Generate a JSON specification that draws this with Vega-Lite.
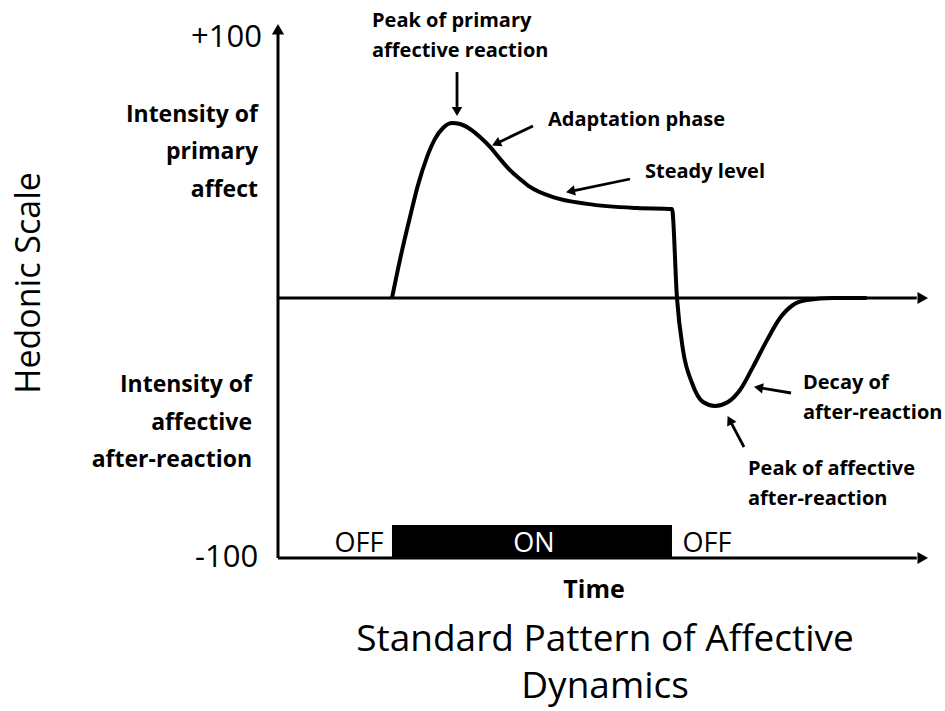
{
  "$schema": "https://vega.github.io/schema/vega-lite/v6.json",
  "width": 945,
  "height": 711,
  "autosize": {"type": "fit", "contains": "padding"},
  "padding": 0,
  "background": "white",
  "config": {"view": {"stroke": null}, "font": "Open Sans"},
  "datasets": {
    "curve": [
      {"t": 17.81, "h": 0}, {"t": 19.22, "h": 16.5}, {"t": 20.63, "h": 31.2}, {"t": 21.88, "h": 43.5},
      {"t": 23.28, "h": 54.2}, {"t": 24.53, "h": 61.2}, {"t": 25.78, "h": 65.4}, {"t": 27.19, "h": 67.3},
      {"t": 28.44, "h": 66.9}, {"t": 30.0, "h": 65.0}, {"t": 31.56, "h": 61.9}, {"t": 33.13, "h": 58.1},
      {"t": 34.69, "h": 53.5}, {"t": 36.25, "h": 49.2}, {"t": 37.81, "h": 45.8}, {"t": 39.38, "h": 42.7},
      {"t": 42.97, "h": 38.8}, {"t": 48.28, "h": 36.2}, {"t": 56.09, "h": 34.6}, {"t": 61.56, "h": 34.2},
      {"t": 62.34, "h": 0}, {"t": 63.28, "h": -20.0}, {"t": 64.69, "h": -32.7}, {"t": 66.41, "h": -40.0},
      {"t": 68.28, "h": -41.5}, {"t": 70.31, "h": -40.0}, {"t": 72.19, "h": -35.4}, {"t": 74.22, "h": -26.5},
      {"t": 76.41, "h": -16.2}, {"t": 78.44, "h": -7.7}, {"t": 80.47, "h": -2.7}, {"t": 82.66, "h": -0.8},
      {"t": 86.72, "h": 0}, {"t": 92.0, "h": 0}
    ],
    "stimulus": [{"t": 17.81, "t2": 61.56, "h": -100, "h2": -87.3}],
    "axes": [
      {"t": 0, "h": -100, "t2": 0, "h2": 101.5},
      {"t": 0, "h": 0, "t2": 99.8, "h2": 0},
      {"t": 0, "h": -100, "t2": 99.8, "h2": -100}
    ],
    "axisHeads": [
      {"t": 0, "h": 102.7, "angle": 0},
      {"t": 100.47, "h": 0, "angle": 90},
      {"t": 100.47, "h": -100, "angle": 90}
    ],
    "arrows": [
      {"t": 27.97, "h": 86.9, "t2": 27.97, "h2": 73.5},
      {"t": 39.84, "h": 66.15, "t2": 34.3, "h2": 59.65},
      {"t": 55.0, "h": 45.77, "t2": 45.92, "h2": 41.15},
      {"t": 80.16, "h": -36.54, "t2": 75.3, "h2": -34.54},
      {"t": 72.81, "h": -57.31, "t2": 70.69, "h2": -47.46}
    ],
    "arrowHeads": [
      {"t": 27.97, "h": 72.3, "angle": 180},
      {"t": 34.3, "h": 59.65, "angle": 244.9},
      {"t": 45.92, "h": 41.15, "angle": 258.7},
      {"t": 75.3, "h": -34.54, "angle": 279.5},
      {"t": 70.69, "h": -47.46, "angle": 332.4}
    ],
    "annotations": [
      {"label": "Peak of primary", "t": 14.69, "h": 106.5},
      {"label": "affective reaction", "t": 14.69, "h": 95.0},
      {"label": "Adaptation phase", "t": 42.19, "h": 68.3},
      {"label": "Steady level", "t": 57.34, "h": 48.3},
      {"label": "Decay of", "t": 82.03, "h": -32.7},
      {"label": "after-reaction", "t": 82.03, "h": -44.2},
      {"label": "Peak of affective", "t": 73.44, "h": -65.8},
      {"label": "after-reaction", "t": 73.44, "h": -77.3}
    ],
    "sideLabels": [
      {"label": "Intensity of", "t": -3.13, "h": 70.4},
      {"label": "primary", "t": -3.13, "h": 56.0},
      {"label": "affect", "t": -3.13, "h": 41.5},
      {"label": "Intensity of", "t": -4.06, "h": -33.5},
      {"label": "affective", "t": -4.06, "h": -48.1},
      {"label": "after-reaction", "t": -4.06, "h": -62.3}
    ],
    "scaleLabels": [
      {"label": "+100", "t": -2.5, "h": 100},
      {"label": "-100", "t": -3.1, "h": -100}
    ],
    "states": [
      {"label": "OFF", "t": 12.66, "h": -94.5},
      {"label": "ON", "t": 40.0, "h": -94.5},
      {"label": "OFF", "t": 67.03, "h": -94.5}
    ],
    "xTitle": [{"label": "Time", "t": 49.38, "h": -112.3}],
    "yTitle": [{"label": "Hedonic Scale", "t": -38.75, "h": 5.8}],
    "caption": [
      {"label": "Standard Pattern of Affective", "t": 51.1, "h": -131.5},
      {"label": "Dynamics", "t": 51.1, "h": -149.5}
    ]
  },
  "layer": [
    {
      "data": {"name": "stimulus"},
      "mark": {"type": "rect", "color": "black"},
      "encoding": {
        "x": {"field": "t", "type": "quantitative", "scale": {"domain": [-43.4375, 104.21875], "nice": false, "zero": false}, "axis": null},
        "x2": {"field": "t2"},
        "y": {"field": "h", "type": "quantitative", "scale": {"domain": [-158.846, 114.615], "nice": false, "zero": false}, "axis": null},
        "y2": {"field": "h2"}
      }
    },
    {
      "data": {"name": "axes"},
      "mark": {"type": "rule", "color": "black", "strokeWidth": 3},
      "encoding": {
        "x": {"field": "t", "type": "quantitative"},
        "x2": {"field": "t2"},
        "y": {"field": "h", "type": "quantitative"},
        "y2": {"field": "h2"}
      }
    },
    {
      "data": {"name": "axisHeads"},
      "mark": {"type": "point", "shape": "triangle", "filled": true, "color": "black", "size": 150, "opacity": 1},
      "encoding": {
        "x": {"field": "t", "type": "quantitative"},
        "y": {"field": "h", "type": "quantitative"},
        "angle": {"field": "angle", "type": "quantitative", "scale": null}
      }
    },
    {
      "data": {"name": "curve"},
      "mark": {"type": "line", "color": "black", "strokeWidth": 4, "interpolate": "monotone"},
      "encoding": {
        "x": {"field": "t", "type": "quantitative"},
        "y": {"field": "h", "type": "quantitative"}
      }
    },
    {
      "data": {"name": "arrows"},
      "mark": {"type": "rule", "color": "black", "strokeWidth": 2.8},
      "encoding": {
        "x": {"field": "t", "type": "quantitative"},
        "x2": {"field": "t2"},
        "y": {"field": "h", "type": "quantitative"},
        "y2": {"field": "h2"}
      }
    },
    {
      "data": {"name": "arrowHeads"},
      "mark": {"type": "point", "shape": "triangle", "filled": true, "color": "black", "size": 110, "opacity": 1},
      "encoding": {
        "x": {"field": "t", "type": "quantitative"},
        "y": {"field": "h", "type": "quantitative"},
        "angle": {"field": "angle", "type": "quantitative", "scale": null}
      }
    },
    {
      "data": {"name": "annotations"},
      "mark": {"type": "text", "align": "left", "baseline": "middle", "fontSize": 20, "fontWeight": "bold", "color": "black"},
      "encoding": {
        "x": {"field": "t", "type": "quantitative"},
        "y": {"field": "h", "type": "quantitative"},
        "text": {"field": "label"}
      }
    },
    {
      "data": {"name": "sideLabels"},
      "mark": {"type": "text", "align": "right", "baseline": "middle", "fontSize": 23, "fontWeight": "bold", "color": "black"},
      "encoding": {
        "x": {"field": "t", "type": "quantitative"},
        "y": {"field": "h", "type": "quantitative"},
        "text": {"field": "label"}
      }
    },
    {
      "data": {"name": "scaleLabels"},
      "mark": {"type": "text", "align": "right", "baseline": "middle", "fontSize": 31, "color": "black"},
      "encoding": {
        "x": {"field": "t", "type": "quantitative"},
        "y": {"field": "h", "type": "quantitative"},
        "text": {"field": "label"}
      }
    },
    {
      "data": {"name": "states"},
      "mark": {"type": "text", "align": "center", "baseline": "middle", "fontSize": 27},
      "encoding": {
        "x": {"field": "t", "type": "quantitative"},
        "y": {"field": "h", "type": "quantitative"},
        "text": {"field": "label"},
        "color": {"condition": {"test": "datum.label === 'ON'", "value": "white"}, "value": "black"}
      }
    },
    {
      "data": {"name": "xTitle"},
      "mark": {"type": "text", "align": "center", "baseline": "middle", "fontSize": 25, "fontWeight": "bold", "color": "black"},
      "encoding": {
        "x": {"field": "t", "type": "quantitative"},
        "y": {"field": "h", "type": "quantitative"},
        "text": {"field": "label"}
      }
    },
    {
      "data": {"name": "yTitle"},
      "mark": {"type": "text", "align": "center", "baseline": "middle", "fontSize": 34, "angle": 270, "color": "black"},
      "encoding": {
        "x": {"field": "t", "type": "quantitative"},
        "y": {"field": "h", "type": "quantitative"},
        "text": {"field": "label"}
      }
    },
    {
      "data": {"name": "caption"},
      "mark": {"type": "text", "align": "center", "baseline": "middle", "fontSize": 37, "color": "black"},
      "encoding": {
        "x": {"field": "t", "type": "quantitative"},
        "y": {"field": "h", "type": "quantitative"},
        "text": {"field": "label"}
      }
    }
  ]
}
